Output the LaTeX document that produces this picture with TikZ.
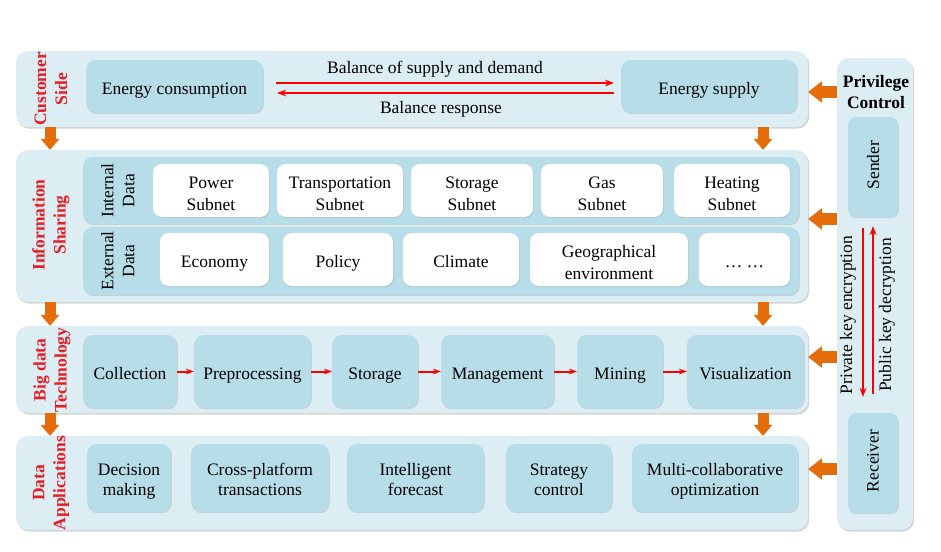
\documentclass[tikz,border=0pt]{standalone}
\usepackage{fontspec}
\setmainfont{Liberation Serif}
\usetikzlibrary{arrows.meta,shadows}

\definecolor{panelfill}{RGB}{220,238,244}
\definecolor{boxfill}{RGB}{183,221,232}
\definecolor{lblred}{RGB}{232,28,36}
\definecolor{flow}{RGB}{228,108,10}

\newcommand{\twolines}[1]{\begin{tabular}[b]{@{}c@{}}#1\end{tabular}}

\tikzset{
    panel/.style={fill=panelfill, rounded corners=12pt, inner sep=0pt,
        drop shadow={shadow xshift=1.2pt, shadow yshift=-1.6pt, opacity=0.35}},
    blk/.style={fill=boxfill, rounded corners=10pt, inner sep=0pt, align=center,
        execute at begin node={\rule{0pt}{19pt}}, execute at end node={\rule[-4pt]{0pt}{4pt}},
        drop shadow={shadow xshift=0.8pt, shadow yshift=-1.2pt, opacity=0.25}},
    wbox/.style={fill=white, rounded corners=9pt, inner sep=0pt, align=center,
        execute at begin node={\rule{0pt}{19pt}}, execute at end node={\rule[-4pt]{0pt}{4pt}},
        drop shadow={shadow xshift=0.8pt, shadow yshift=-1.2pt, opacity=0.2}},
    one/.style={},
    % two lines: baseline of the last line, box height set by hand
    two/.style={text height=#1, text depth=4pt,
        execute at begin node={}, execute at end node={}},
    two/.default=43pt,
    sidelabel/.style={rotate=90, align=center, text=lblred,
        font=\fontsize{17.5}{21}\selectfont\bfseries},
    flowdown/.style={draw=flow, line width=11pt,
        -{Triangle[length=11pt,width=19pt,line width=0pt]}},
    flowleft/.style={draw=flow, line width=12pt,
        -{Triangle[length=14pt,width=22pt,line width=0pt]}},
    redline/.style={draw=red, line width=2.4pt,
        -{Stealth[length=9pt,width=7pt,line width=0pt]}},
    smallred/.style={draw=red, line width=2pt,
        -{Stealth[length=8pt,width=6pt,line width=0pt]}},
}

\begin{document}
\begin{tikzpicture}[x=1pt,y=-1pt, every node/.style={font=\fontsize{17.5}{22}\selectfont}]
    \useasboundingbox (0,0) rectangle (941,551);

    % layer panels
    \node[panel, minimum width=792, minimum height=76] (cust) at (412,89) {};
    \node[panel, minimum width=792, minimum height=152] (info) at (412,226) {};
    \node[panel, minimum width=792, minimum height=87] (big) at (412,369.5) {};
    \node[panel, minimum width=792, minimum height=94] (app) at (412,483) {};
    \node[panel, minimum width=76, minimum height=472] (priv) at (875,294) {};

    % red titles on the left
    \node[sidelabel] (custlbl) at (51,89) {Customer\\Side};
    \node[sidelabel] (infolbl) at (51,225) {Information\\Sharing};
    \node[sidelabel] (biglbl) at (52,370) {Big data\\Technology};
    \node[sidelabel] (applbl) at (51,483) {Data\\Applications};

    % customer side
    \node[blk, minimum width=177, minimum height=53] (econs) at (174.5,86.5) {Energy consumption};
    \node[blk, minimum width=176, minimum height=53] (esup) at (709,86.5) {Energy supply};
    \draw[redline, shorten <=13pt, shorten >=7pt]
        ([yshift=3.5pt]econs.east) -- ([yshift=3.5pt]esup.west);
    \draw[redline, shorten <=7pt, shorten >=14pt]
        ([yshift=-6.5pt]esup.west) -- ([yshift=-6.5pt]econs.east);
    \node (bal) at (435,69.5) {\strut Balance of supply and demand};
    \node (resp) at (441,109.5) {\strut Balance response};

    % information sharing
    \node[blk, minimum width=716, minimum height=67] (intstrip) at (441,190.5) {};
    \node[blk, minimum width=716, minimum height=68] (extstrip) at (441,261) {};
    \node[rotate=90, align=center, font=\fontsize{17.5}{21}\selectfont] (intlbl) at (118,190.5) {Internal\\Data};
    \node[rotate=90, align=center, font=\fontsize{17.5}{21}\selectfont] (extlbl) at (118,261) {External\\Data};
    \foreach \name/\cx/\w/\txt in {power/211/116/{Power\\Subnet},
            trans/340/126/{Transportation\\Subnet}, stosub/472/122/{Storage\\Subnet},
            gas/602/122/{Gas\\Subnet}, heat/732/116/{Heating\\Subnet}} {
        \node[wbox, two, minimum width=\w, minimum height=53] (\name) at (\cx,190.5) {\twolines{\txt}};
    }
    \foreach \name/\cx/\w/\k/\txt in {econ/214.5/109/one/Economy, policy/338/110/one/Policy,
            climate/461/116/one/Climate, geo/609/158/two/{\twolines{Geographical\\environment}},
            more/744.5/91/one/{… …}} {
        \node[wbox, \k, minimum width=\w, minimum height=53] (\name) at (\cx,259.5) {\txt};
    }

    % big data technology chain
    \foreach \name/\cx/\w/\txt in {coll/130/94/Collection, prep/252.5/117/Preprocessing,
            stor/375/86/Storage, mgmt/497.5/113/Management, mine/620/86/Mining,
            vis/745.5/117/Visualization} {
        \node[blk, minimum width=\w, minimum height=73] (\name) at (\cx,371.5) {\txt};
    }
    \foreach \a/\b in {coll/prep, prep/stor, stor/mgmt, mgmt/mine, mine/vis} {
        \draw[smallred] (\a) -- (\b);
    }

    % data applications
    \foreach \name/\cx/\w/\txt in {decide/129/84/{Decision\\making},
            cross/260/138/{Cross-platform\\transactions}, fcast/415.5/137/{Intelligent\\forecast},
            strat/559/106/{Strategy\\control}, multi/715/166/{Multi-collaborative\\optimization}} {
        \node[blk, two=38pt, font=\fontsize{17.5}{20}\selectfont, minimum width=\w, minimum height=68] (\name) at (\cx,478) {\twolines{\txt}};
    }

    % privilege control
    \node[align=center, font=\fontsize{17.5}{21}\selectfont\bfseries] (privlbl) at (876,92) {Privilege\\Control};
    \node[blk, rounded corners=8pt, minimum width=50, minimum height=100] (send) at (873,167) {\rotatebox{90}{Sender}};
    \node[blk, rounded corners=8pt, minimum width=50, minimum height=100] (recv) at (873,463) {\rotatebox{90}{Receiver}};
    \draw[redline, line width=2pt, shorten <=11pt, shorten >=16pt]
        ([xshift=-10pt]send.south) -- ([xshift=-10pt]recv.north);
    \draw[redline, line width=2pt, shorten <=19pt, shorten >=9pt]
        (recv.north) -- (send.south);
    \node[rotate=90] (enc) at (848,315) {Private key encryption};
    \node[rotate=90] (dec) at (887,315) {Public key decryption};

    % orange flow arrows between layers
    \coordinate (lcol) at (50,0);
    \coordinate (rcol) at (763,0);
    \foreach \u/\l in {cust/info, info/big, big/app} {
        \draw[flowdown] (lcol |- \u.south) -- (lcol |- \l.north);
        \draw[flowdown] (rcol |- \u.south) -- (rcol |- \l.north);
    }
    \foreach \p/\dy in {cust/-3, info/7, big/12.5, app/14} {
        \draw[flowleft] ([yshift=\dy pt]priv.west |- \p.east) -- ([yshift=\dy pt]\p.east);
    }

\end{tikzpicture}
\end{document}
